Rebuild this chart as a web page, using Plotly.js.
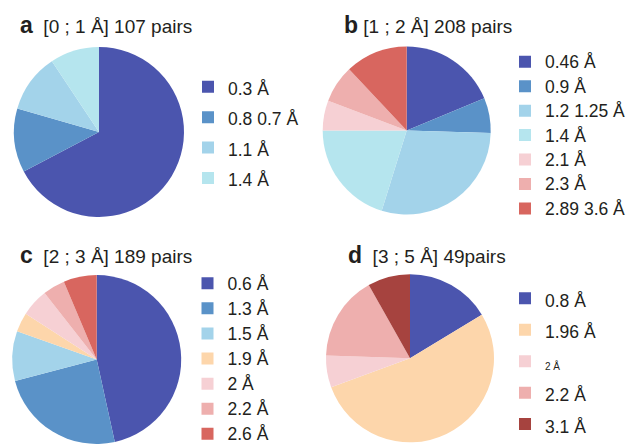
<!DOCTYPE html>
<html>
<head>
<meta charset="utf-8">
<script src="https://cdn.plot.ly/plotly-3.0.1.min.js"></script>
<style>html,body{margin:0;padding:0;background:#fff;}#chart{width:627px;height:444px;}</style>
</head>
<body>
<div id="chart"></div>
<script>
// ---- data ----
const panelLetters = ['a', 'b', 'c', 'd'];
const panelTitles = ['[0 ; 1 Å] 107 pairs', '[1 ; 2 Å] 208 pairs', '[2 ; 3 Å] 189 pairs', '[3 ; 5 Å] 49pairs'];

const labelsA = ['0.3 Å', '0.8 0.7 Å', '1.1 Å', '1.4 Å'];
const valuesA = [72, 13, 12, 10];

const labelsB = ['0.46 Å', '0.9 Å', '1.2 1.25 Å', '1.4 Å', '2.1 Å', '2.3 Å', '2.89 3.6 Å'];
const valuesB = [39, 14, 61, 42, 12, 15, 25];

const labelsC = ['0.6 Å', '1.3 Å', '1.5 Å', '1.9 Å', '2 Å', '2.2 Å', '2.6 Å'];
const valuesC = [88, 46, 18, 7, 10, 8, 12];

const labelsD = ['0.8 Å', '1.96 Å', '2 Å', '2.2 Å', '3.1 Å'];
const valuesD = [8, 26, 3, 8, 4];

// ---- styles ----
const C = {
  navy: '#4b55ae', blue: '#5a92c8', light: '#a3d3ea', cyan: '#b5e5ee',
  peach: '#fdd6ab', pale: '#f6d0d4', pink: '#eeafae', red: '#d8665f', dred: '#a6433f'
};
const colorsA = [C.navy, C.blue, C.light, C.cyan];
const colorsB = [C.navy, C.blue, C.light, C.cyan, C.pale, C.pink, C.red];
const colorsC = [C.navy, C.blue, C.light, C.peach, C.pale, C.pink, C.red];
const colorsD = [C.navy, C.peach, C.pale, C.pink, C.dred];

const W = 627, H = 444;
const FONT = 'Liberation Sans, Arial, Helvetica, sans-serif';
const TXT = '#231f20';

function dom(cx, cy, r) {
  return { x: [(cx - r) / W, (cx + r) / W], y: [Math.max(0, (H - cy - r) / H), Math.min(1, (H - cy + r) / H)] };
}
// each panel gets its own (visually identical) label markup so that equal labels
// in different panels are not merged by the pie legend
function styled(labels, size, tag, small) {
  return labels.map((l, i) => '<span style="font-size:' + ((small && small[i]) ? small[i] : size) + 'px' + ' '.repeat(tag) + '">' + l + '</span>');
}

function pie(labels, values, colors, domain, legendId, tag, small) {
  return {
    type: 'pie', labels: styled(labels, 17.5, tag, small), values: values, sort: false,
    direction: 'clockwise', rotation: 0, textinfo: 'none', hoverinfo: 'label+value',
    marker: { colors: colors, line: { width: 0 } },
    domain: domain, legend: legendId, showlegend: true
  };
}

const data = [
  pie(labelsA, valuesA, colorsA, dom(99, 132, 85), 'legend', 0),
  pie(labelsB, valuesB, colorsB, dom(406.7, 130.5, 84), 'legend2', 1),
  pie(labelsC, valuesC, colorsC, dom(96.7, 359.5, 84.5), 'legend3', 2),
  pie(labelsD, valuesD, colorsD, dom(410, 358.3, 84), 'legend4', 3, [null, null, 10, null, null])
];

function leg(leftPx, topPx, fs) {
  return {
    x: leftPx / W, y: 1 - topPx / H, xanchor: 'left', yanchor: 'top',
    font: { family: FONT, size: fs, color: TXT }, bgcolor: 'rgba(0,0,0,0)',
    borderwidth: 0, tracegroupgap: 0, itemclick: false, itemdoubleclick: false
  };
}

const titlePos = [[18, 25], [342, 25], [18, 255], [346, 255]];
const gaps = ['\u00a0\u00a0', '\u00a0', '\u00a0\u00a0', '\u00a0\u00a0'];
const annotations = panelLetters.map((l, i) => ({
  xref: 'paper', yref: 'paper', x: titlePos[i][0] / W, y: 1 - titlePos[i][1] / H,
  xanchor: 'left', yanchor: 'middle', showarrow: false,
  text: '<b><span style="font-size:23px">' + l + '</span></b>' + gaps[i] + panelTitles[i],
  font: { family: FONT, size: 19, color: TXT }
}));

const layout = {
  width: W, height: H, margin: { l: 0, r: 0, t: 0, b: 0, autoexpand: false },
  paper_bgcolor: '#fff', plot_bgcolor: '#fff',
  font: { family: FONT, color: TXT },
  legend: leg(188, 66.5, 21.1),
  legend2: leg(505, 44.5, 16.5),
  legend3: leg(187.5, 265.7, 17),
  legend4: leg(505, 277.5, 21.9),
  annotations: annotations
};

Plotly.newPlot('chart', data, layout, { displayModeBar: false, staticPlot: true });
</script>
</body>
</html>
